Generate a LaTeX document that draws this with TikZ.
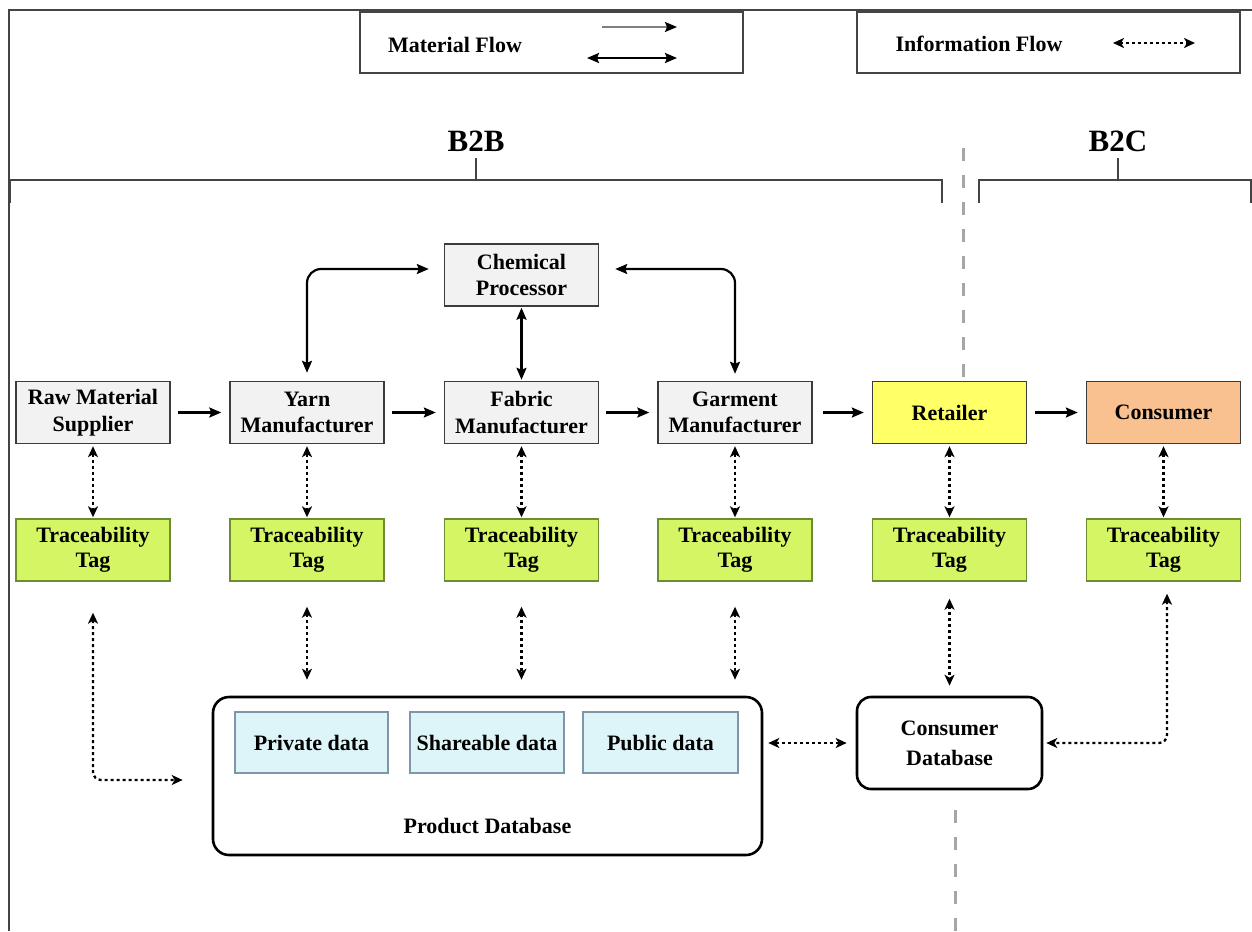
\documentclass[tikz,border=0pt]{standalone}
\usepackage{fontspec}
\setmainfont{Liberation Serif}
\usetikzlibrary{arrows.meta,calc}
\definecolor{procfill}{HTML}{F2F2F2}
\definecolor{boxborder}{HTML}{3C3C3C}
\definecolor{retfill}{HTML}{FFFF66}
\definecolor{consfill}{HTML}{F9C18F}
\definecolor{tagfill}{HTML}{D4F664}
\definecolor{tagborder}{HTML}{6E8C32}
\definecolor{datafill}{HTML}{DDF5F8}
\definecolor{databorder}{HTML}{8096A8}
\definecolor{divgray}{HTML}{A6A6A6}
\definecolor{framegray}{HTML}{444444}
\begin{document}
\begin{tikzpicture}[x=1pt,y=-1pt,
  txt/.style={font=\fontsize{22}{26.5}\selectfont\bfseries,align=center,inner sep=0pt},
  box/.style={txt,draw=boxborder,line width=1.4pt,fill=procfill,minimum width=154pt,minimum height=62pt},
  tagbox/.style={box,fill=tagfill,draw=tagborder,font=\fontsize{22}{25.5}\selectfont\bfseries},
  databox/.style={txt,draw=databorder,line width=1.4pt,fill=datafill,minimum height=61pt},
  dbbox/.style={txt,draw=black,fill=white,line width=2.6pt,rounded corners=16pt},
  legbox/.style={draw=framegray,line width=1.5pt,fill=white},
  mat/.style={line width=2.2pt,-{Stealth[length=12pt,width=10pt,inset=2pt]}},
  matboth/.style={line width=2.2pt,{Stealth[length=12pt,width=10pt,inset=2pt]}-{Stealth[length=12pt,width=10pt,inset=2pt]}},
  info/.style={line width=2.3pt,dash pattern=on 3pt off 3pt,{Stealth[length=11pt,width=10pt,inset=3pt]}-{Stealth[length=11pt,width=10pt,inset=3pt]}},
  brk/.style={line width=2.2pt,draw=framegray}
]
\useasboundingbox (0,0) rectangle (1252,931);
% frame
\draw[line width=2pt,framegray] (8.5,931) -- (8.5,10.5) -- (1252,10.5);
% divider
\draw[divgray,line width=3pt,dash pattern=on 13pt off 14pt] (963,148) -- (963,381);
\draw[divgray,line width=3pt,dash pattern=on 13pt off 14pt] (955,810) -- (955,931);

% legend
\draw[legbox] (360,12) rectangle (743,73);
\node[txt] (matlbl) at (455,45) {Material Flow};
\coordinate (m1a) at (602,27); \coordinate (m1b) at (677,27);
\coordinate (m2a) at (587,58); \coordinate (m2b) at (677,58);
\draw[line width=1.8pt,draw=gray,-{Stealth[length=12pt,width=10pt,inset=2pt,black]}] (m1a) -- (m1b);
\draw[matboth] (m2a) -- (m2b);
\draw[legbox] (857,12) rectangle (1240,73);
\node[txt] (inflbl) at (979,44) {Information Flow};
\coordinate (i1a) at (1113,43); \coordinate (i1b) at (1195,43);
\draw[info] (i1a) -- (i1b);

% B2B / B2C brackets
\node[font=\fontsize{31}{33}\selectfont\bfseries,inner sep=0pt] (b2b) at (476,141) {B2B};
\node[font=\fontsize{31}{33}\selectfont\bfseries,inner sep=0pt] (b2c) at (1118,141) {B2C};
\draw[brk] (9.5,203) -- (9.5,180) -- (942,180) -- (942,203);
\draw[brk,line width=1.4pt] (476,158) -- (476,180);
\draw[brk] (979,203) -- (979,180) -- (1251,180) -- (1251,203);
\draw[brk,line width=1.4pt] (1118,158) -- (1118,180);

% main row
\node[box] (raw) at (93,412.5) {Raw Material\\Supplier};
\node[box] (yarn) at (307,412.5) {Yarn\\Manufacturer};
\node[box] (fabric) at (521.5,412.5) {Fabric\\Manufacturer};
\node[box] (garment) at (735,412.5) {Garment\\Manufacturer};
\node[box,fill=retfill] (retail) at (949.5,412.5) {Retailer};
\node[box,fill=consfill] (consumer) at (1163.5,412.5) {Consumer};
\node[box] (chem) at (521.5,275) {Chemical\\Processor};

% tags
\node[tagbox] (rawtag) at (93,550) {Traceability\\Tag};
\node[tagbox] (yarntag) at (307,550) {Traceability\\Tag};
\node[tagbox] (fabtag) at (521.5,550) {Traceability\\Tag};
\node[tagbox] (gartag) at (735,550) {Traceability\\Tag};
\node[tagbox] (rettag) at (949.5,550) {Traceability\\Tag};
\node[tagbox] (contag) at (1163.5,550) {Traceability\\Tag};

% databases
\node[dbbox,minimum width=549pt,minimum height=158pt] (pdb) at (487.5,776) {};
\node[databox,minimum width=153pt] (priv) at (311.5,742.5) {Private data};
\node[databox,minimum width=154pt] (share) at (487,742.5) {Shareable data};
\node[databox,minimum width=155pt] (pub) at (660.5,742.5) {Public data};
\node[txt] (pdblbl) at (487.5,826) {Product Database};
\node[dbbox,minimum width=185pt,minimum height=92pt,rounded corners=14pt,font=\fontsize{22}{30}\selectfont\bfseries] (cdb) at (949.5,743) {Consumer\\Database};

% material flow
\draw[mat] ([xshift=7pt]raw.east) -- ([xshift=-8pt]yarn.west);
\draw[mat] ([xshift=7pt]yarn.east) -- ([xshift=-8pt]fabric.west);
\draw[mat] ([xshift=7pt]fabric.east) -- ([xshift=-8pt]garment.west);
\draw[mat] ([xshift=10pt]garment.east) -- ([xshift=-8pt]retail.west);
\draw[mat] ([xshift=8pt]retail.east) -- ([xshift=-8pt]consumer.west);
\draw[matboth,rounded corners=14pt] ([xshift=-15pt,yshift=6pt]chem.west) -| ([yshift=8pt]yarn.north);
\draw[matboth,rounded corners=14pt] ([xshift=16pt,yshift=6pt]chem.east) -| ([yshift=7pt]garment.north);
\draw[matboth] ([yshift=-1pt]chem.south) -- ([yshift=1pt]fabric.north);

% info flow box <-> tag
\foreach \a/\b in {raw/rawtag,yarn/yarntag,fabric/fabtag,garment/gartag,retail/rettag,consumer/contag}{
  \draw[info] ([yshift=-2pt]\a.south) -- ([yshift=1pt]\b.north);
}
% tag <-> product database
\foreach \t in {yarntag,fabtag,gartag}{
  \draw[info] ($(\t.south)+(0,25)$) -- ($(\t.south |- pdb.north)+(0,-16)$);
}
\draw[info,rounded corners=8pt] ($(rawtag.south)+(0,31)$) |- ($(pdb.west)+(-29,4)$);
\draw[info] ($(rettag.south)+(0,17)$) -- ($(cdb.north)+(0,-10)$);
\draw[info] ($(pdb.east)+(5,-33)$) -- ($(cdb.west)+(-9,0)$);
\draw[info,rounded corners=8pt] ($(contag.south)+(3.5,12)$) |- ($(cdb.east)+(3,0)$);
\end{tikzpicture}
\end{document}
